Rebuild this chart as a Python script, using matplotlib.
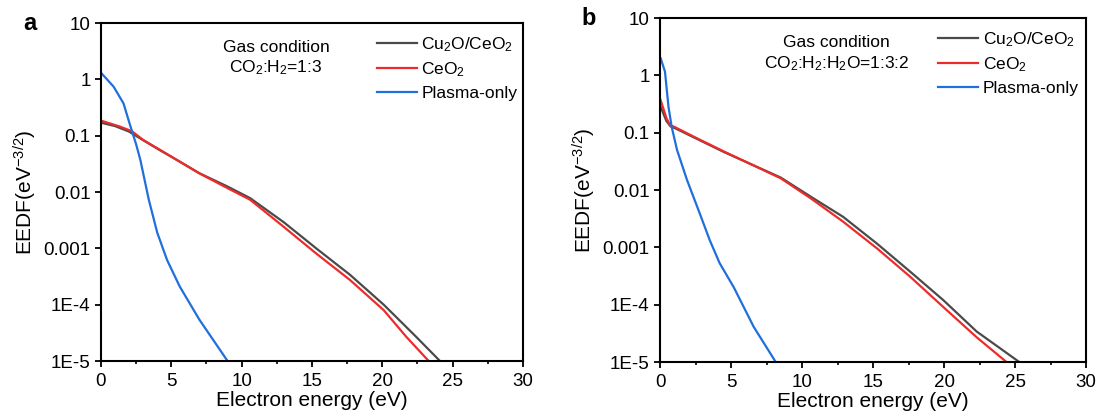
import matplotlib
matplotlib.use("Agg")
import matplotlib.pyplot as plt
from matplotlib.ticker import FixedLocator, FixedFormatter, MultipleLocator

plt.rcParams["font.family"] = ["Liberation Sans", "DejaVu Sans"]
plt.rcParams["mathtext.fontset"] = "custom"
plt.rcParams["mathtext.rm"] = "Liberation Sans"
plt.rcParams["mathtext.default"] = "regular"

# --- panel a: CO2:H2 = 1:3 ---
energy_a_cu = [0, 1.0, 2.0, 3.0, 4.2, 5.4, 7.0, 9.0, 10.6, 13.0, 15.3, 17.7, 20.1, 22.4, 24.1]
eedf_a_cu = [0.17, 0.148, 0.118, 0.083, 0.055, 0.037, 0.0215, 0.0125, 0.0078, 0.0029,
             0.00100, 3.4e-4, 1.0e-4, 2.7e-5, 1e-5]
energy_a_ce = [0, 1.35, 2.2, 3.0, 4.2, 5.4, 7.0, 9.0, 10.6, 13.0, 15.3, 17.7, 20.1, 21.7, 23.3]
eedf_a_ce = [0.185, 0.145, 0.12, 0.084, 0.056, 0.037, 0.0214, 0.0117, 0.0073, 0.0024,
             8.1e-4, 2.75e-4, 8e-5, 2.7e-5, 1e-5]
energy_a_pl = [0, 0.9, 1.6, 2.1, 2.5, 2.8, 3.4, 4.0, 4.7, 5.6, 7.0, 9.0]
eedf_a_pl = [1.31, 0.74, 0.375, 0.145, 0.07, 0.037, 0.0073, 0.0019, 6.2e-4, 2.1e-4, 5.4e-5, 1e-5]

# --- panel b: CO2:H2:H2O = 1:3:2 ---
energy_b_cu = [0, 0.45, 0.75, 1.05, 2.6, 4.5, 6.3, 8.5, 10.6, 12.9, 15.3, 17.6, 19.95, 22.3, 25.3]
eedf_b_cu = [0.30, 0.16, 0.128, 0.12, 0.078, 0.046, 0.029, 0.0165, 0.0077, 0.0034,
             1.15e-3, 3.8e-4, 1.2e-4, 3.4e-5, 1e-5]
energy_b_ce = [0, 0.45, 0.7, 1.05, 2.6, 4.5, 6.3, 8.5, 10.6, 12.9, 15.3, 17.6, 19.95, 22.3, 24.4]
eedf_b_ce = [0.40, 0.18, 0.136, 0.125, 0.08, 0.047, 0.029, 0.016, 0.0072, 0.0028,
             9.5e-4, 3.1e-4, 9.1e-5, 2.7e-5, 1e-5]
energy_b_pl = [0.05, 0.35, 0.6, 0.82, 1.2, 1.9, 2.8, 3.5, 4.2, 5.2, 6.6, 8.15]
eedf_b_pl = [1.98, 1.16, 0.28, 0.127, 0.05, 0.015, 0.0039, 0.00134, 5.3e-4, 2.0e-4, 4.1e-5, 1e-5]

series_labels = ["Cu$_2$O/CeO$_2$", "CeO$_2$", "Plasma-only"]
series_colors = ["#4a4a4a", "#ee2b2b", "#1f6fdc"]
ytick_vals = [1e-5, 1e-4, 1e-3, 1e-2, 1e-1, 1, 10]
ytick_text = ["1E-5", "1E-4", "0.001", "0.01", "0.1", "1", "10"]
gas_a = "Gas condition\nCO$_2$:H$_2$=1:3"
gas_b = "Gas condition\nCO$_2$:H$_2$:H$_2$O=1:3:2"

fig = plt.figure(figsize=(11.0, 4.19), dpi=100)
ax_a = fig.add_axes([0.0918, 0.1384, 0.3836, 0.8067])
ax_b = fig.add_axes([0.6000, 0.1360, 0.3873, 0.8210])

# (axes, tag, gas text, data, gas text y, legend x)
panels = [
    (ax_a, "a", gas_a, [(energy_a_cu, eedf_a_cu), (energy_a_ce, eedf_a_ce), (energy_a_pl, eedf_a_pl)], 0.895, 0.625),
    (ax_b, "b", gas_b, [(energy_b_cu, eedf_b_cu), (energy_b_ce, eedf_b_ce), (energy_b_pl, eedf_b_pl)], 0.895, 0.625),
]

for ax, tag, gas, data, gy, lx in panels:
    for (x, y), lab, col in zip(data, series_labels, series_colors):
        ax.plot(x, y, color=col, lw=1.6, label=lab)
    ax.set_yscale("log")
    ax.set_xlim(0, 30)
    ax.set_ylim(1e-5, 10)
    ax.yaxis.set_major_locator(FixedLocator(ytick_vals))
    ax.yaxis.set_major_formatter(FixedFormatter(ytick_text))
    ax.yaxis.set_minor_locator(FixedLocator([]))
    ax.xaxis.set_major_locator(MultipleLocator(5))
    ax.xaxis.set_minor_locator(MultipleLocator(2.5))
    ax.tick_params(axis="both", which="major", direction="out", length=4.5, width=1.3,
                   labelsize=13.5, pad=3)
    ax.tick_params(axis="x", which="major", pad=4)
    ax.tick_params(axis="x", which="minor", direction="out", length=2.5, width=1.2)
    for s in ax.spines.values():
        s.set_linewidth(1.5)
    ax.set_xlabel("Electron energy (eV)", fontsize=15, labelpad=1)
    ax.set_ylabel("EEDF(eV$^{-3/2}$)", fontsize=15, labelpad=3)
    ax.text(0.415, gy, gas, transform=ax.transAxes, ha="center", va="center",
            fontsize=12.5, linespacing=1.3)
    ax.legend(loc="upper left", bbox_to_anchor=(lx, 1.0), frameon=False, fontsize=12.5,
              handlelength=2.3, handletextpad=0.25, labelspacing=0.38, borderaxespad=0.3)
    ax.text(-0.185, 1.0, tag, transform=ax.transAxes, ha="left", va="center",
            fontsize=17, fontweight="bold")

fig.savefig("out.png", dpi=100)
